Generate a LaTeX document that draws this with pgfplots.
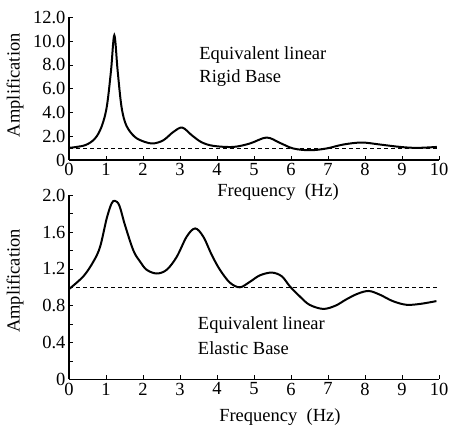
\documentclass[border=0pt]{standalone}
\usepackage{fontspec}
\setmainfont{Liberation Serif}
\usepackage{pgfplots}
\pgfplotsset{compat=1.18}
\begin{document}
\begin{tikzpicture}[font=\fontsize{18.5bp}{21bp}\selectfont]
\useasboundingbox (0,0) rectangle (449bp,429bp);
\pgfplotsset{
  myax/.style={
    scale only axis, width=370bp,
    axis x line=bottom, axis y line=left,
    axis line style={-, line width=1.2pt, black},
    xmin=0, xmax=10, xtick={0,...,10},
    tick align=inside, major tick length=4bp, minor tick length=4bp,
    tick style={line width=0.8pt, black},
    /pgf/number format/assume math mode=true,
    tick label style={font=\fontsize{18.5bp}{21bp}\selectfont},
    label style={font=\fontsize{18.5bp}{21bp}\selectfont},
    xlabel={Frequency\ \ (Hz)},
    ylabel={Amplification},
    clip=false,
  },
  curve/.style={black, line width=2pt, smooth, tension=0.55},
  base/.style={black, line width=0.6pt, dash pattern=on 4bp off 3bp},
}
% Top panel: rigid base
\begin{axis}[myax, at={(69bp,269bp)}, anchor=south west, height=142.6bp,
  ymin=0, ymax=12, ytick={0,2,4,6,8,10,12},
  yticklabels={0,2.0,4.0,6.0,8.0,10.0,12.0},
  ylabel style={at={(axis description cs:-0.146,0.525)}, anchor=center},
  xlabel style={at={(axis description cs:0.565,-0.226)}, anchor=center},
]
\addplot[base] coordinates {(0,1) (10,1)};
\addplot[curve] coordinates {
(0,1.02) (0.43,1.24) (0.70,1.8) (0.88,2.8) (1.02,4.46) (1.135,7.5) (1.225,10.5)
(1.315,7.5) (1.42,4.46) (1.55,2.9) (1.78,1.94) (2.05,1.52) (2.28,1.39) (2.55,1.66)
(2.82,2.36) (3.06,2.73) (3.32,2.08) (3.58,1.5) (3.9,1.19) (4.44,1.1) (4.89,1.39)
(5.34,1.89) (5.70,1.44) (6.06,0.97) (6.51,0.82) (6.96,0.97) (7.41,1.3) (7.91,1.47)
(8.41,1.3) (8.95,1.1) (9.4,1.02) (9.94,1.1)
};
\node[anchor=west, inner sep=0pt] at (axis cs:3.52,8.8) {Equivalent linear};
\node[anchor=west, inner sep=0pt] at (axis cs:3.52,6.87) {Rigid Base};
\end{axis}
% Bottom panel: elastic base
\begin{axis}[myax, at={(69bp,49.7bp)}, anchor=south west, height=184bp,
  ymin=0, ymax=2, ytick={0,0.4,0.8,1.2,1.6,2.0},
  yticklabels={0,0.4,0.8,1.2,1.6,2.0},
  minor ytick={0.2,0.6,1.0,1.4,1.8},
  ylabel style={at={(axis description cs:-0.146,0.534)}, anchor=center},
  xlabel style={at={(axis description cs:0.57,-0.208)}, anchor=center},
]
\addplot[base] coordinates {(0,1) (10,1)};
\addplot[curve] coordinates {
(0,0.98) (0.39,1.12) (0.66,1.28) (0.84,1.44) (1.02,1.75) (1.15,1.91) (1.24,1.94)
(1.36,1.89) (1.51,1.68) (1.74,1.40) (1.92,1.28) (2.1,1.19) (2.37,1.15) (2.64,1.19)
(2.91,1.33) (3.18,1.55) (3.41,1.64) (3.63,1.55) (3.86,1.35) (4.08,1.19) (4.35,1.05)
(4.62,1.0) (4.89,1.06) (5.16,1.13) (5.48,1.16) (5.75,1.12) (5.97,1.01) (6.24,0.9)
(6.5,0.81) (6.87,0.765) (7.2,0.8) (7.5,0.87) (7.8,0.93) (8.1,0.96) (8.4,0.92)
(8.75,0.85) (9.12,0.81) (9.5,0.82) (9.93,0.85)
};
\node[anchor=west, inner sep=0pt] at (axis cs:3.48,0.59) {Equivalent linear};
\node[anchor=west, inner sep=0pt] at (axis cs:3.48,0.34) {Elastic Base};
\end{axis}
\end{tikzpicture}
\end{document}
